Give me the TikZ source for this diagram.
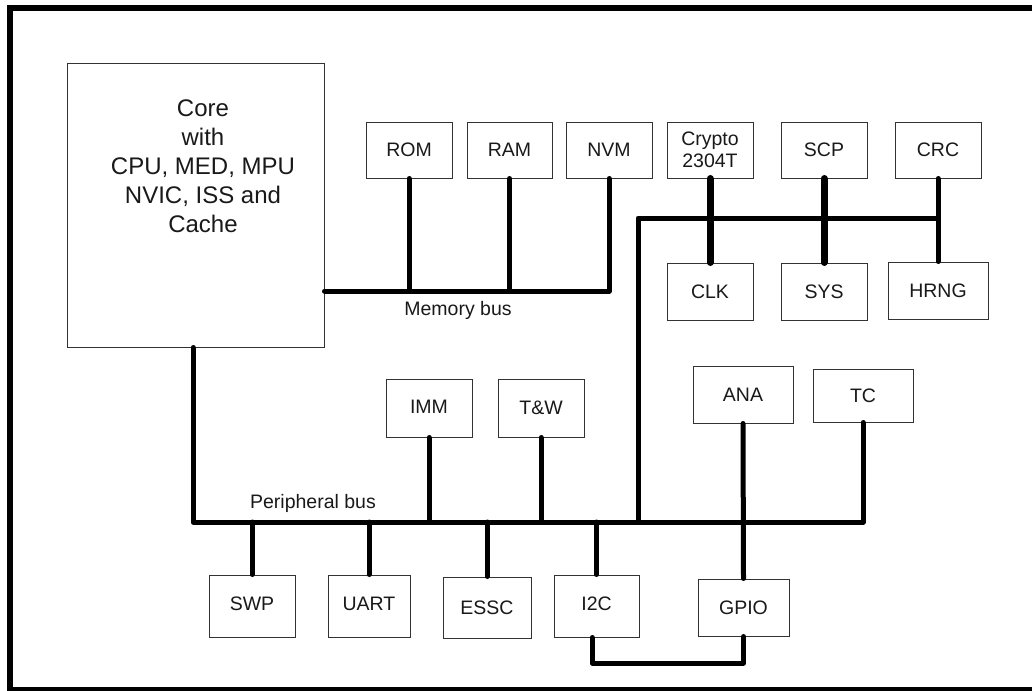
\documentclass[tikz,border=0pt]{standalone}
\usepackage{fontspec}
\setmainfont{Liberation Sans}
\newcommand\boxfont{\fontsize{19.5}{22.4}\selectfont}
\newcommand\corefont{\fontsize{24}{29}\selectfont}
\begin{document}
\begin{tikzpicture}[x=1pt,y=-1pt,
  box/.style={draw=black!80, line width=1pt, inner sep=0pt, font=\boxfont, align=center, text=black!90},
  lbl/.style={inner sep=0pt, font=\boxfont, text=black!90},
  wire/.style={line width=5pt, line cap=round, line join=round},
  thickwire/.style={line width=7pt, line cap=round},
  frame/.style={line width=5.5pt}]
\useasboundingbox (0,0) rectangle (1032,690);
\clip (0,0) rectangle (1032,690);
\draw[frame] (1045,8) -- (10,8) -- (10,689.5) -- (1045,689.5);

% core
\node[box, minimum width=257pt, minimum height=283pt] (core) at (195.5,205.5) {};
\node[inner sep=0pt, font=\corefont, align=center, text=black!90] (coretext) at (203,166) {Core\\with\\CPU, MED, MPU\\NVIC, ISS and\\Cache};

% top row
\node[box, minimum width=86pt, minimum height=56pt] (rom) at (409,150) {ROM};
\node[box, minimum width=85pt, minimum height=56pt] (ram) at (509.5,150) {RAM};
\node[box, minimum width=86pt, minimum height=56pt] (nvm) at (609,150) {NVM};
\node[box, minimum width=86pt, minimum height=56pt] (crypto) at (710,150) {Crypto\\2304T};
\node[box, minimum width=86pt, minimum height=56pt] (scp) at (824,150) {SCP};
\node[box, minimum width=86pt, minimum height=56pt] (crc) at (938,150) {CRC};
\node[box, minimum width=86pt, minimum height=57pt] (clk) at (710,291.5) {CLK};
\node[box, minimum width=86pt, minimum height=57pt] (sys) at (824,291.5) {SYS};
\node[box, minimum width=100pt, minimum height=57pt] (hrng) at (938,290.5) {HRNG};

% middle row
\node[box, minimum width=86pt, minimum height=58pt] (imm) at (429,408) {\raisebox{3pt}{IMM}};
\node[box, minimum width=86pt, minimum height=58pt] (tw) at (541,408) {T\&W};
\node[box, minimum width=100pt, minimum height=57pt] (ana) at (743,394.5) {ANA};
\node[box, minimum width=100pt, minimum height=53pt] (tc) at (863,395.5) {TC};

% bottom row
\node[box, minimum width=86pt, minimum height=62pt] (swp) at (252,606) {\raisebox{4pt}{SWP}};
\node[box, minimum width=82pt, minimum height=62pt] (uart) at (369,606) {\raisebox{4pt}{UART}};
\node[box, minimum width=88pt, minimum height=61pt] (essc) at (487,607.5) {ESSC};
\node[box, minimum width=85pt, minimum height=62pt] (i2c) at (596.5,606) {\raisebox{4pt}{I2C}};
\node[box, minimum width=91pt, minimum height=57pt] (gpio) at (743.5,607.5) {GPIO};

% labels
\node[lbl, anchor=base] (memlbl) at (458,315) {Memory bus};
\node[lbl, anchor=base] (perlbl) at (313,508.5) {Peripheral bus};

% bus coordinates
\coordinate (mbus) at (609,291);
\coordinate (ub) at (638,218);
\coordinate (pbus) at (193,522);
\coordinate (ig) at (592,663);

% memory bus
\draw[wire] (core.east |- mbus) -- (nvm.south |- mbus) -- (nvm.south);
\draw[wire] (rom.south) -- (rom.south |- mbus);
\draw[wire] (ram.south) -- (ram.south |- mbus);

% upper bus
\draw[wire] (ub |- pbus) -- (ub) -- (crc.south |- ub);
\draw[thickwire] (crypto.south) -- (clk.north);
\draw[thickwire] (scp.south) -- (sys.north);
\draw[wire] (crc.south) -- (hrng.north);

% peripheral bus
\draw[wire] (core.south -| pbus) -- (pbus) -- (tc.south |- pbus) -- (tc.south);
\draw[wire] (imm.south) -- (imm.south |- pbus);
\draw[wire] (tw.south) -- (tw.south |- pbus);
\draw[wire] (ana.south) -- (gpio.north);
\draw[wire] (swp.north) -- (swp.north |- pbus);
\draw[wire] (uart.north) -- (uart.north |- pbus);
\draw[wire] (essc.north) -- (essc.north |- pbus);
\draw[wire] (i2c.north) -- (i2c.north |- pbus);
\draw[wire] (i2c.south -| ig) -- (ig) -- (gpio.south |- ig) -- (gpio.south);
\end{tikzpicture}
\end{document}
